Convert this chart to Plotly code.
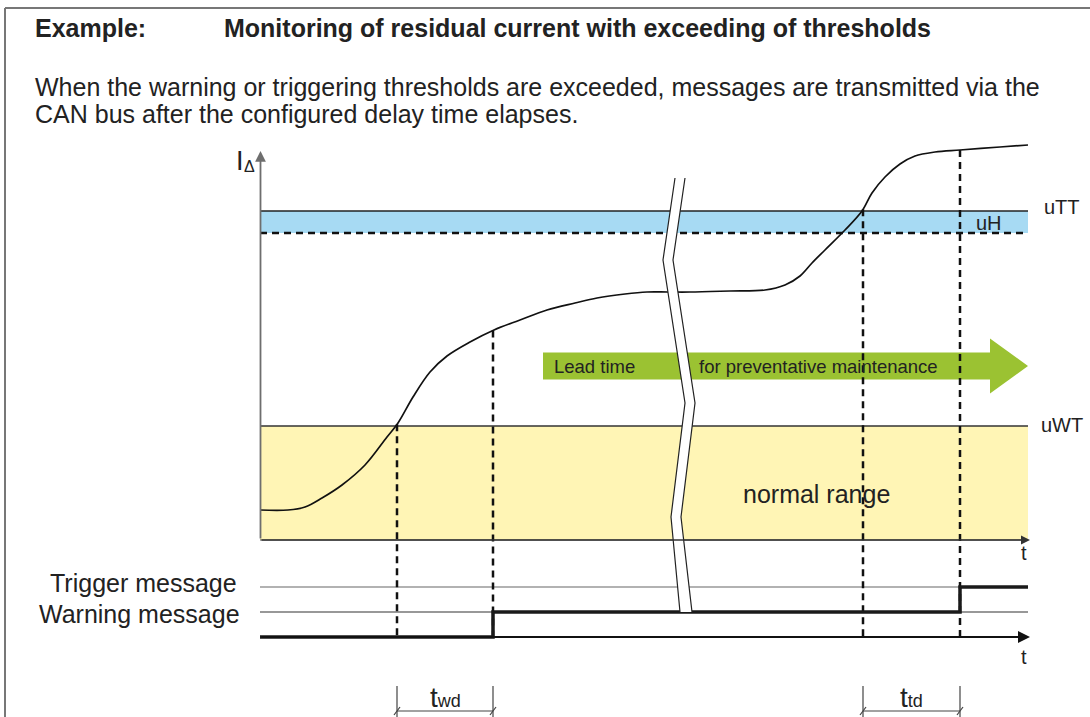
import plotly.graph_objects as go

# ---------------- data (diagram units: time -> x, residual current -> y, screen-like) -------------
curve_t = [260, 288, 305, 322, 342, 365, 387, 398, 413, 430, 447, 470, 494, 520, 547, 575, 597,
           625, 647, 668, 690, 730, 765, 785, 800, 812, 825, 845, 862, 872, 885, 900, 915, 935,
           960, 1000, 1028]
curve_i = [510, 510, 507, 498, 485, 465, 437, 423, 397, 372, 356, 342, 330, 320, 310, 303, 298,
           294, 292, 292, 292, 291, 290, 285, 276, 263, 250, 230, 211, 193, 177, 164, 156, 152,
           150, 147, 145]

t_start, t_end = 260, 1028
level_uTT, level_uH, level_uWT, level_base = 211, 233, 426, 540

# message signal (time of switching, level)
msg_t = [260, 493, 493, 960, 960, 1028]
msg_level = [637, 637, 612, 612, 587, 587]
level_trigger, level_warning, level_off = 587, 612, 637

# delay times (start, end)
twd = (397, 493)
ttd = (863, 960)

# axis break (left edge / right edge polylines)
brk_y = [178, 260, 403, 517, 612]
brk_left = [675, 663, 685, 671, 680]
brk_right = [685, 673, 695, 681, 692]

# lead time arrow
lead_start, lead_body_end, lead_tip = 543, 990, 1028
lead_mid, lead_half_body, lead_half_head = 366, 13.5, 27.5

FONT = "Liberation Sans, Arial, sans-serif"
TXT = "#222222"

fig = go.Figure()

def line(x, y, color="#000", width=1.5, dash="solid", shape="linear"):
    fig.add_trace(go.Scatter(x=x, y=y, mode="lines", hoverinfo="skip",
                             line=dict(color=color, width=width, dash=dash, shape=shape)))

def poly(x, y, fill, lc=None, lw=0):
    fig.add_trace(go.Scatter(x=x, y=y, mode="lines", fill="toself", fillcolor=fill, hoverinfo="skip",
                             line=dict(color=lc or fill, width=lw)))

# bands
poly([t_start, t_end, t_end, t_start, t_start],
     [level_uWT, level_uWT, level_base, level_base, level_uWT], "#FFF5B5")
poly([t_start, t_end, t_end, t_start, t_start],
     [level_uTT, level_uTT, level_uH, level_uH, level_uTT], "#A7DAF3")

# lead time arrow
poly([lead_start, lead_body_end, lead_body_end, lead_tip, lead_body_end, lead_body_end, lead_start, lead_start],
     [lead_mid - lead_half_body, lead_mid - lead_half_body, lead_mid - lead_half_head, lead_mid,
      lead_mid + lead_half_head, lead_mid + lead_half_body, lead_mid + lead_half_body, lead_mid - lead_half_body],
     "#9BC232")

# threshold lines
line([t_start, t_end], [level_uTT, level_uTT], "#222", 1.5)
line([t_start, t_end], [level_uH, level_uH], "#111", 2.4, "7px,5px")
line([t_start, t_end], [level_uWT, level_uWT], "#333", 1.5)
line([t_start, t_end], [level_base, level_base], "#555", 1.2)

# message level lines
line([t_start, t_end], [level_trigger, level_trigger], "#666", 1.2)
line([t_start, t_end], [level_warning, level_warning], "#333", 1.2)

# residual current curve
line(curve_t, curve_i, "#111", 1.7, shape="spline")

# dashed vertical markers
def curve_at(tx):
    for i in range(len(curve_t) - 1):
        if curve_t[i] <= tx <= curve_t[i + 1]:
            f = (tx - curve_t[i]) / (curve_t[i + 1] - curve_t[i])
            return curve_i[i] + f * (curve_i[i + 1] - curve_i[i])
    return curve_i[-1]

for tx in [twd[0], twd[1], ttd[0], ttd[1]]:
    line([tx, tx], [curve_at(tx), 640], "#111", 2.5, "7px,5px")

# message signal
line(msg_t, msg_level, "#1a1a1a", 3.5)

# axis break (white gap with two edges)
poly(brk_left + brk_right[::-1] + [brk_left[0]], brk_y + brk_y[::-1] + [brk_y[0]], "#FFFFFF")
line(brk_left, brk_y, "#222", 1.2)
line(brk_right, brk_y, "#222", 1.2)

# delay dimension lines
for (a, b) in [twd, ttd]:
    line([a, a], [686, 717], "#444", 1.2)
    line([b, b], [686, 717], "#444", 1.2)
    line([a, b], [711, 711], "#444", 1.2)
    line([a - 3, a + 3], [715, 707], "#444", 1.2)
    line([b - 3, b + 3], [715, 707], "#444", 1.2)

ann = []
def text(x, y, s, size, anchor="left", bold=False, color=TXT):
    ann.append(dict(x=x, y=y, xref="x", yref="y", text=("<b>%s</b>" % s) if bold else s,
                    showarrow=False, xanchor=anchor, yanchor="middle",
                    font=dict(family=FONT, size=size, color=color)))

def arrow(x0, y0, x1, y1, color, width):
    ann.append(dict(x=x1, y=y1, ax=x0, ay=y0, xref="x", yref="y", axref="x", ayref="y",
                    text="", showarrow=True, arrowhead=2, arrowsize=1.2, arrowwidth=width,
                    arrowcolor=color, standoff=0))

# axes
arrow(260.5, level_base, 260.5, 151, "#6e6e6e", 1.8)
arrow(t_start, level_base, 1030, level_base, "#333", 1.5)
arrow(t_start, level_off, 1030, level_off, "#111", 2)

# texts
text(33, 28, "Example:", 25, bold=True)
text(222, 28, "Monitoring of residual current with exceeding of thresholds", 25, bold=True)
text(33, 87, "When the warning or triggering thresholds are exceeded, messages are transmitted via the", 25)
text(33, 114, "CAN bus after the configured delay time elapses.", 25)
text(234, 161, "I", 27)
text(242, 166, "\u0394", 16)
text(1042, 207, "uTT", 20)
text(974, 223, "uH", 20)
text(1039, 425, "uWT", 20)
text(816, 494, "normal range", 25, anchor="center")
text(552, 366, "Lead time", 18.5)
text(697, 366, "for preventative maintenance", 18.5)
text(1024, 553, "t", 20, anchor="center")
text(1024, 657, "t", 20, anchor="center")
text(239, 583, "Trigger message", 25, anchor="right")
text(242, 614, "Warning message", 25, anchor="right")
text((twd[0] + twd[1]) / 2, 697, "t<span style='font-size:18px'>wd</span>", 28, anchor="center")
text((ttd[0] + ttd[1]) / 2, 697, "t<span style='font-size:18px'>td</span>", 28, anchor="center")

fig.update_layout(
    width=1090, height=717, margin=dict(l=0, r=0, t=0, b=0),
    paper_bgcolor="white", plot_bgcolor="white", showlegend=False,
    xaxis=dict(range=[0, 1090], visible=False, fixedrange=True),
    yaxis=dict(range=[717, 0], visible=False, fixedrange=True),
    annotations=ann,
    shapes=[
        dict(type="line", xref="x", yref="y", x0=5, x1=5, y0=8, y1=717, line=dict(color="#777", width=2)),
        dict(type="line", xref="x", yref="y", x0=5, x1=1090, y0=8, y1=8, line=dict(color="#777", width=2)),
    ],
)

fig.write_html("out.html", config={"displayModeBar": False},
               post_script="document.body.style.margin='0';document.body.style.overflow='hidden';")
